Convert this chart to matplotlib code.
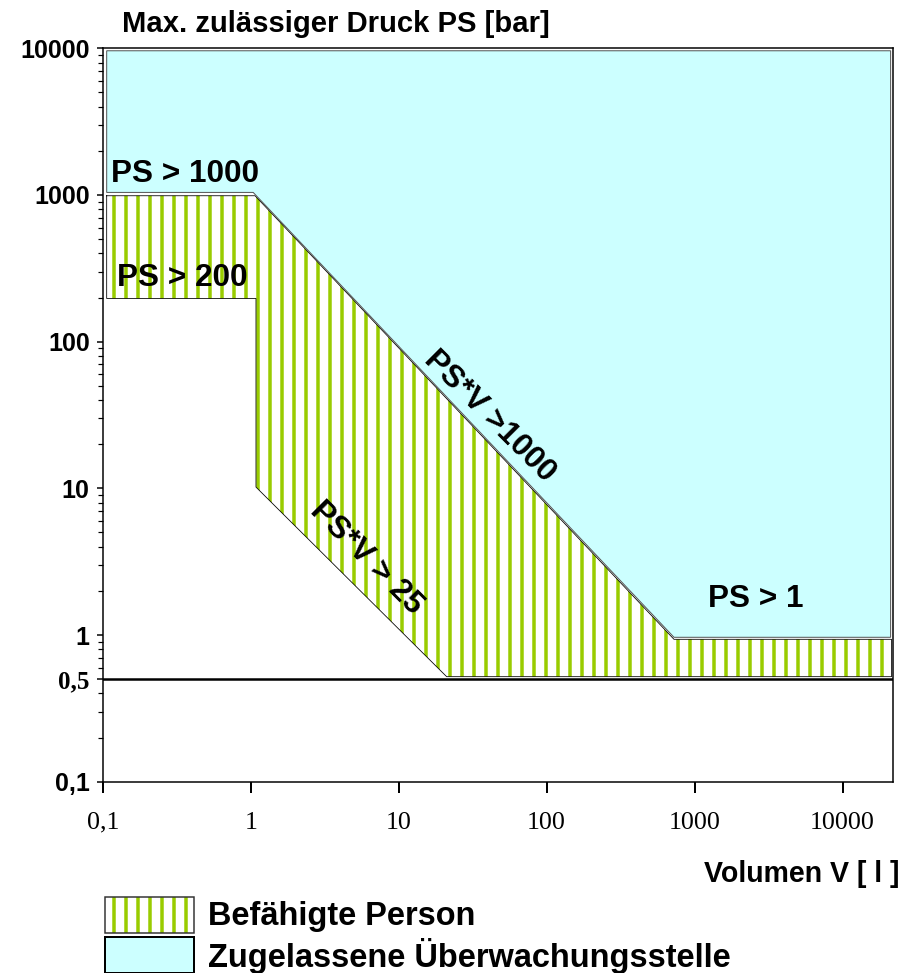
import matplotlib
matplotlib.use('Agg')
import matplotlib.pyplot as plt
from matplotlib.patches import Rectangle
from matplotlib.ticker import LogLocator, NullFormatter, NullLocator
import numpy as np

# ---- data ----
green_V = [0.1064, 1.07, 725, 21400, 21400, 21.1, 1.086, 1.086, 0.1064]
green_PS = [988, 988, 0.935, 0.935, 0.52, 0.52, 10.2, 197, 197]
cyan_V = [0.1064, 21100, 21100, 725, 1.04, 0.1064]
cyan_PS = [9620, 9620, 0.965, 0.965, 1041, 1041]
limit_PS = 0.5
x_ticks = [0.1, 1, 10, 100, 1000, 10000]
x_ticklabels = ['0,1', '1', '10', '100', '1000', '10000']
y_ticks = [0.1, 0.5, 1, 10, 100, 1000, 10000]
y_ticklabels = ['0,1', '0,5', '1', '10', '100', '1000', '10000']
region_labels = ['PS > 1000', 'PS > 200', 'PS > 1', 'PS*V >1000', 'PS*V > 25']
region_label_V = [0.36, 0.346, 2594, 41.4, 6.01]
region_label_PS = [1387, 273, 1.76, 31.1, 3.35]
region_label_rot = [0, 0, 0, -45, -45]
legend_labels = ['Befähigte Person', 'Zugelassene Überwachungsstelle']

GREEN = '#99CC00'
CYAN = '#CCFFFF'
SANS = 'Liberation Sans'
SERIF = 'Liberation Serif'

plt.rcParams['hatch.linewidth'] = 3.5
plt.rcParams['font.family'] = [SANS, 'DejaVu Sans']

W, H = 914, 973
DPI = 72
fig = plt.figure(figsize=(W / DPI, H / DPI), dpi=DPI)
L, R, B, T = 102.7, 893, 781.7, 48.3
ax = fig.add_axes([L / W, 1 - B / H, (R - L) / W, (B - T) / H])
ax.set_xscale('log')
ax.set_yscale('log')
ax.set_xlim(0.1, 21900)
ax.set_ylim(0.1, 10000)

# green hatched region
ax.fill(green_V, green_PS, facecolor='white', edgecolor=GREEN, hatch='|', linewidth=0, zorder=1)
ax.plot(green_V + [green_V[0]], green_PS + [green_PS[0]], color='black', lw=0.8, zorder=2)
# cyan region
ax.fill(cyan_V, cyan_PS, facecolor=CYAN, edgecolor='#555555', linewidth=1.0, zorder=3)
# 0.5 bar limit line
ax.axhline(limit_PS, color='black', lw=2.5, zorder=4)

for txt, v, p, rot in zip(region_labels, region_label_V, region_label_PS, region_label_rot):
    ax.text(v, p, txt, fontsize=31.5, fontweight='bold', family=SANS, ha='center', va='center',
            rotation=rot, rotation_mode='anchor', zorder=5)

# axes styling
for s in ax.spines.values():
    s.set_linewidth(1.5)
    s.set_zorder(6)

ax.set_xticks(x_ticks, x_ticklabels)
ax.xaxis.set_minor_locator(NullLocator())
ax.tick_params(axis='x', which='major', direction='out', length=11, width=2, pad=19, labelsize=26)
for lbl in ax.get_xticklabels():
    lbl.set_fontfamily(SERIF)
    lbl.set_fontweight('normal')

ax.set_yticks(y_ticks, y_ticklabels)
ax.yaxis.set_minor_locator(LogLocator(base=10, subs=np.arange(2, 10), numticks=20))
ax.yaxis.set_minor_formatter(NullFormatter())
ax.tick_params(axis='y', which='major', direction='out', length=6, width=1.5, pad=7, labelsize=25)
ax.tick_params(axis='y', which='minor', direction='out', length=5.5, width=1.2)
for lbl in ax.get_yticklabels():
    lbl.set_fontweight('bold')
    lbl.set_fontfamily(SERIF if lbl.get_text() == '0,5' else SANS)

# titles
fig.text(122 / W, 1 - 32 / H, 'Max. zulässiger Druck PS [bar]', fontsize=29.2, fontweight='bold',
         family=SANS, ha='left', va='baseline')
fig.text(900 / W, 1 - 882 / H, 'Volumen V [ l ]', fontsize=28.5, fontweight='bold',
         family=SANS, ha='right', va='baseline')

# legend
bx, bw, bh = 105, 89, 35.4
rows = [(897.3, 'hatch'), (937.3, 'cyan')]
for (top, kind), label in zip(rows, legend_labels):
    y0 = 1 - (top + bh) / H
    if kind == 'hatch':
        fig.patches.append(Rectangle((bx / W, y0), bw / W, bh / H, transform=fig.transFigure,
                                     facecolor='white', edgecolor=GREEN, hatch='|', lw=0))
        fig.patches.append(Rectangle((bx / W, y0), bw / W, bh / H, transform=fig.transFigure,
                                     facecolor='none', edgecolor='#333333', lw=1.5))
    else:
        fig.patches.append(Rectangle((bx / W, y0), bw / W, bh / H, transform=fig.transFigure,
                                     facecolor=CYAN, edgecolor='black', lw=2))
    fig.text(208 / W, 1 - (top + bh / 2 + 1) / H, label, fontsize=32.5, fontweight='bold',
             family=SANS, ha='left', va='center')

fig.savefig('out.png', dpi=DPI)
